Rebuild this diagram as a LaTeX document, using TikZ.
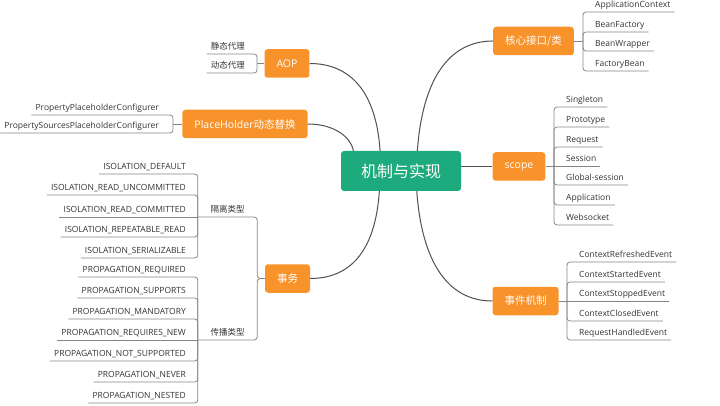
\documentclass[tikz,border=0pt]{standalone}
\usepackage{fontspec}
\setmainfont{Open Sans}
\newfontfamily\cjk{Noto Sans CJK SC}
\definecolor{topicorange}{HTML}{F8922A}
\definecolor{rootgreen}{HTML}{1DAA7D}
\definecolor{leafgray}{HTML}{858585}
\definecolor{curvegray}{HTML}{505050}
\definecolor{textgray}{HTML}{333333}

\begin{document}
\begin{tikzpicture}[
	x=1pt, y=-1pt,
	root/.style={fill=rootgreen, rounded corners=3pt, text=white, font=\cjk\fontsize{16}{18}\selectfont, minimum width=120pt, minimum height=40pt, inner sep=0pt},
	topic/.style={fill=topicorange, rounded corners=3pt, text=white, font=\fontsize{10.5}{12}\selectfont, minimum height=28.5pt, inner xsep=12pt, inner ysep=0pt},
	leaf/.style={font=\fontsize{8.5}{10}\selectfont, text=textgray, inner xsep=4pt, inner ysep=2pt, text height=6.5pt, text depth=2.5pt},
	leafL/.style={leaf, anchor=south east},
	leafR/.style={leaf, anchor=south west},
	group/.style={leaf, anchor=south, minimum width=59pt},
	branch/.style={draw=leafgray, line width=0.8pt, rounded corners=3pt},
	link/.style={draw=curvegray, line width=1pt}
	]
	
	\useasboundingbox (0,0) rectangle (720,406);
	
	%-----------------------
	% Root and main topics
	%-----------------------
	\node[root] (mech) at (401,171) {机制与实现};
	
	\node[topic] (aop)   at (287,63.5)  {AOP};
	\node[topic] (ph)    at (245,124)   {PlaceHolder{\cjk 动态替换}};
	\node[topic] (tx)    at (287.5,278.5) {\cjk 事务};
	\node[topic] (core)  at (533.5,41)  {\cjk 核心接口/类};
	\node[topic] (scope) at (519,166.5) {scope};
	\node[topic] (event) at (525.5,301) {\cjk 事件机制};
	
	%-----------------------
	% Root -> main topics (curves)
	%-----------------------
	\draw[link] (mech.136.4) .. controls +(-4,-60) and +(40,0) .. (aop.east);
	\draw[link] (mech.157.4) .. controls +(-3,-15) and +(25,0) .. (ph.east);
	\draw[link] (mech.51.3)  .. controls +(5,-70) and +(-45,0) .. (core.west);
	\draw[link] (mech.east |- scope.west) -- (scope.west);
	\draw[link] (mech.223.6) .. controls +(-4,60) and +(40,0) .. (tx.east);
	\draw[link] (mech.308.7) .. controls +(5,70) and +(-45,0) .. (event.west);
	
	%-----------------------
	% AOP
	%-----------------------
	\coordinate (aopj) at (257,63.5);
	\node[leafL] (aop1) at (249,54) {\cjk 静态代理};
	\node[leafL] (aop2) at (249,73) {\cjk 动态代理};
	
	\draw[branch] (aop1.south west) -| (aopj);
	\draw[branch] (aop2.south west) -| (aopj);
	\draw[branch] (aopj) -- (aop.west);
	
	%-----------------------
	% PlaceHolder
	%-----------------------
	\coordinate (phj) at (173,124);
	\node[leafL] (ph1) at (163,115) {PropertyPlaceholderConfigurer};
	\node[leafL] (ph2) at (163,133) {PropertySourcesPlaceholderConfigurer};
	
	\draw[branch] (ph1.south west) -| (phj);
	\draw[branch] (ph2.south west) -| (phj);
	\draw[branch] (phj) -- (ph.west);
	
	%-----------------------
	% Transactions: isolation / propagation
	%-----------------------
	\node[group] (iso)  at (227.5,217) {\cjk 隔离类型};
	\node[group] (prop) at (227.5,340) {\cjk 传播类型};
	
	\draw[branch] (iso.south west) -- (iso.south east) |- (tx.west);
	\draw[branch] (prop.south west) -- (prop.south east) |- (tx.west);
	
	\node[leafL] (iso1) at (190,174) {ISOLATION\_DEFAULT};
	\node[leafL] (iso2) at (190,195) {ISOLATION\_READ\_UNCOMMITTED};
	\node[leafL] (iso3) at (190,217) {ISOLATION\_READ\_COMMITTED};
	\node[leafL] (iso4) at (190,237) {ISOLATION\_REPEATABLE\_READ};
	\node[leafL] (iso5) at (190,258) {ISOLATION\_SERIALIZABLE};
	
	\draw[branch] (iso1.south west) -| (iso.south west);
	\draw[branch] (iso2.south west) -| (iso.south west);
	\draw[branch] (iso3.south west) -- (iso.south west);
	\draw[branch] (iso4.south west) -| (iso.south west);
	\draw[branch] (iso5.south west) -| (iso.south west);
	
	\node[leafL] (prop1) at (190,277) {PROPAGATION\_REQUIRED};
	\node[leafL] (prop2) at (190,298) {PROPAGATION\_SUPPORTS};
	\node[leafL] (prop3) at (190,319) {PROPAGATION\_MANDATORY};
	\node[leafL] (prop4) at (190,340) {PROPAGATION\_REQUIRES\_NEW};
	\node[leafL] (prop5) at (190,361) {PROPAGATION\_NOT\_SUPPORTED};
	\node[leafL] (prop6) at (190,382) {PROPAGATION\_NEVER};
	\node[leafL] (prop7) at (190,403) {PROPAGATION\_NESTED};
	
	\draw[branch] (prop1.south west) -| (prop.south west);
	\draw[branch] (prop2.south west) -| (prop.south west);
	\draw[branch] (prop3.south west) -| (prop.south west);
	\draw[branch] (prop4.south west) -- (prop.south west);
	\draw[branch] (prop5.south west) -| (prop.south west);
	\draw[branch] (prop6.south west) -| (prop.south west);
	\draw[branch] (prop7.south west) -| (prop.south west);
	
	%-----------------------
	% Core interfaces / classes
	%-----------------------
	\coordinate (corej) at (583,41);
	\node[leafR] (core1) at (591,12) {ApplicationContext};
	\node[leafR] (core2) at (591,32) {BeanFactory};
	\node[leafR] (core3) at (591,51) {BeanWrapper};
	\node[leafR] (core4) at (591,71) {FactoryBean};
	
	\draw[branch] (core1.south east) -| (corej);
	\draw[branch] (core2.south east) -| (corej);
	\draw[branch] (core3.south east) -| (corej);
	\draw[branch] (core4.south east) -| (corej);
	\draw[branch] (core.east) -- (corej);
	
	%-----------------------
	% scope
	%-----------------------
	\coordinate (scopej) at (554,166.5);
	\node[leafR] (sc1) at (562,107) {Singleton};
	\node[leafR] (sc2) at (562,127) {Prototype};
	\node[leafR] (sc3) at (562,147) {Request};
	\node[leafR] (sc4) at (562,166.5) {Session};
	\node[leafR] (sc5) at (562,185) {Global-session};
	\node[leafR] (sc6) at (562,205) {Application};
	\node[leafR] (sc7) at (562,225) {Websocket};
	
	\draw[branch] (sc1.south east) -| (scopej);
	\draw[branch] (sc2.south east) -| (scopej);
	\draw[branch] (sc3.south east) -| (scopej);
	\draw[branch] (sc4.south east) -- (scopej);
	\draw[branch] (sc5.south east) -| (scopej);
	\draw[branch] (sc6.south east) -| (scopej);
	\draw[branch] (sc7.south east) -| (scopej);
	\draw[branch] (scope.east) -- (scopej);
	
	%-----------------------
	% Events
	%-----------------------
	\coordinate (eventj) at (567,301);
	\node[leafR] (ev1) at (575,262) {ContextRefreshedEvent};
	\node[leafR] (ev2) at (575,282) {ContextStartedEvent};
	\node[leafR] (ev3) at (575,301) {ContextStoppedEvent};
	\node[leafR] (ev4) at (575,321) {ContextClosedEvent};
	\node[leafR] (ev5) at (575,340) {RequestHandledEvent};
	
	\draw[branch] (ev1.south east) -| (eventj);
	\draw[branch] (ev2.south east) -| (eventj);
	\draw[branch] (ev3.south east) -- (eventj);
	\draw[branch] (ev4.south east) -| (eventj);
	\draw[branch] (ev5.south east) -| (eventj);
	\draw[branch] (event.east) -- (eventj);
	
\end{tikzpicture}
\end{document}
